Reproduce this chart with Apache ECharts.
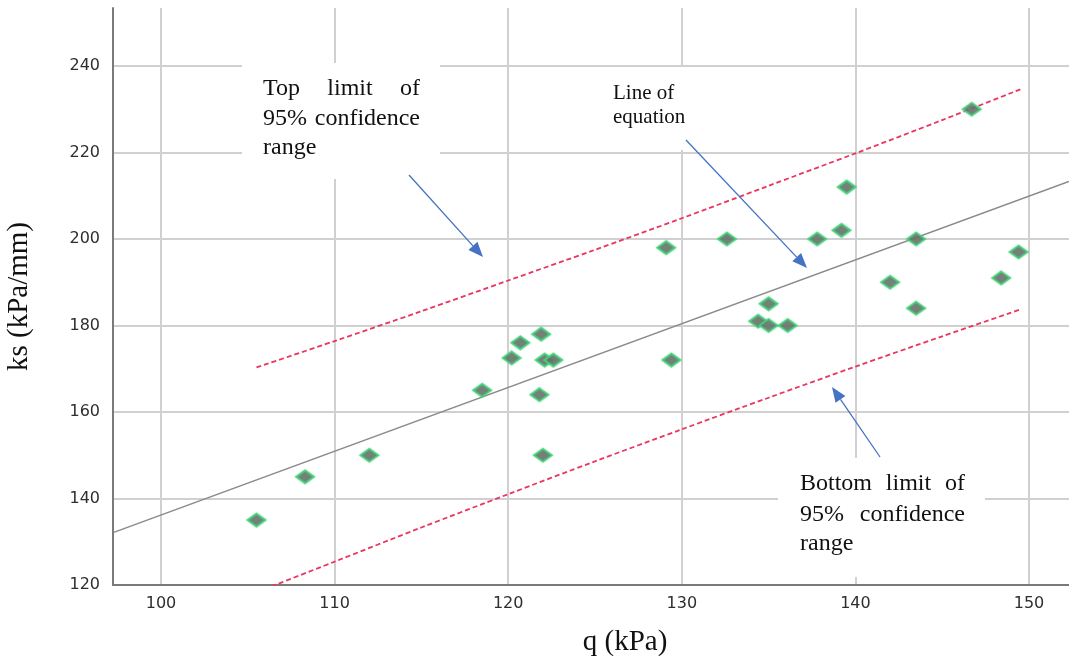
<!DOCTYPE html>
<html>
<head>
<meta charset="utf-8">
<script src="https://cdn.jsdelivr.net/npm/echarts@6/dist/echarts.min.js"></script>
<style>
  html, body { margin: 0; padding: 0; background: #ffffff; }
  #main { width: 1069px; height: 663px; }
</style>
</head>
<body>
<div id="main"></div>
<script>
// Tick values shown on each axis
const xTicks = [100, 110, 120, 130, 140, 150];
const yTicks = [120, 140, 160, 180, 200, 220, 240];

// Measured pairs: bearing pressure q (kPa) and subgrade modulus ks (kPa/mm)
const qValues  = [105.5, 108.3, 112.0, 118.5, 120.2, 120.7, 121.9, 121.8, 122.1, 122.6,
                  122.0, 129.1, 129.4, 132.6, 134.4, 135.0, 135.0, 136.1, 137.8, 139.2,
                  139.5, 142.0, 143.5, 143.5, 146.7, 148.4, 149.4];
const ksValues = [135, 145, 150, 165, 172.5, 176, 178, 164, 172, 172,
                  150, 198, 172, 200, 181, 185, 180, 180, 200, 202,
                  212, 190, 200, 184, 230, 191, 197];

// Regression line end points
const fitQ  = [97.24, 152.3];
const fitKs = [132.1, 213.3];

// 95% confidence limits
const bandQ   = [105.5, 110, 115, 120, 125, 130, 135, 140, 145, 149.5];
const upperKs = [170.3, 176.4, 183.3, 190.4, 197.5, 204.8, 212.3, 219.8, 227.5, 234.6];
const lowerKs = [118.3, 125.4, 133.3, 141.0, 148.6, 156.0, 163.3, 170.5, 177.5, 183.7];

const zip = (a, b) => a.map((v, i) => [v, b[i]]);

const chart = echarts.init(document.getElementById('main'));

const gridColor = '#d0d0d0';
const axisColor = '#7a7a7a';
const tickFont = { fontFamily: 'DejaVu Sans', fontSize: 16, color: '#2e2e2e' };
const serif = 'Liberation Serif';

// ---------- annotation helpers ----------
const measureCtx = document.createElement('canvas').getContext('2d');

function textLine(words, left, right, baseline, size, justify) {
  const font = size + 'px "' + serif + '"';
  measureCtx.font = font;
  const widths = words.map(w => measureCtx.measureText(w).width);
  const total = widths.reduce((s, w) => s + w, 0);
  let gap = measureCtx.measureText(' ').width;
  if (justify && words.length > 1) gap = (right - left - total) / (words.length - 1);
  const out = [];
  let x = left;
  words.forEach((w, i) => {
    out.push({
      type: 'text', x: x, y: baseline - size * 0.33, z: 60,
      style: {
        text: w, font: font, fill: '#111111',
        align: 'left', verticalAlign: 'middle',
        textAlign: 'left', textVerticalAlign: 'middle'
      }
    });
    x += widths[i] + gap;
  });
  return out;
}

function arrow(x1, y1, x2, y2) {
  const dx = x2 - x1, dy = y2 - y1;
  const len = Math.sqrt(dx * dx + dy * dy);
  const ux = dx / len, uy = dy / len;
  const headLen = 15, halfW = 6;
  const bx = x2 - ux * headLen, by = y2 - uy * headLen;
  const px = -uy * halfW, py = ux * halfW;
  return [
    { type: 'line', z: 61, shape: { x1: x1, y1: y1, x2: bx, y2: by },
      style: { stroke: '#4472c4', lineWidth: 1.3 } },
    { type: 'polygon', z: 61,
      shape: { points: [[x2, y2], [bx + px, by + py], [bx - px, by - py]] },
      style: { fill: '#4472c4' } }
  ];
}

const graphics = [
  // white label panels
  { type: 'rect', z: 55, shape: { x: 242, y: 63, width: 198, height: 116 }, style: { fill: '#ffffff' } },
  { type: 'rect', z: 55, shape: { x: 600, y: 67, width: 100, height: 83 }, style: { fill: '#ffffff' } },
  { type: 'rect', z: 55, shape: { x: 778, y: 458, width: 207, height: 119 }, style: { fill: '#ffffff' } }
]
  .concat(textLine(['Top', 'limit', 'of'], 263, 420, 97, 24, true))
  .concat(textLine(['95%', 'confidence'], 263, 420, 127, 24, true))
  .concat(textLine(['range'], 263, 420, 156, 24, false))
  .concat(textLine(['Line', 'of'], 613, 676, 100, 21, false))
  .concat(textLine(['equation'], 613, 690, 124, 21, false))
  .concat(textLine(['Bottom', 'limit', 'of'], 800, 965, 492, 24, true))
  .concat(textLine(['95%', 'confidence'], 800, 965, 523, 24, true))
  .concat(textLine(['range'], 800, 965, 552, 24, false))
  .concat(arrow(409, 175, 483, 257))
  .concat(arrow(686, 140, 807, 268))
  .concat(arrow(880, 457, 832, 387));

chart.setOption({
  animation: false,
  backgroundColor: '#ffffff',
  grid: { left: 113, right: 0, top: 8, bottom: 78, containLabel: false, outerBoundsMode: 'none' },
  xAxis: {
    type: 'value',
    min: 97.235,
    max: 152.304,
    name: 'q (kPa)',
    nameLocation: 'middle',
    nameGap: 43,
    nameTextStyle: { fontFamily: serif, fontSize: 29, color: '#111111', padding: [0, 0, 0, 68] },
    axisLine: { show: true, onZero: false, lineStyle: { color: axisColor, width: 2 } },
    axisTick: { show: false, customValues: xTicks },
    axisLabel: Object.assign({ customValues: xTicks, margin: 11 }, tickFont),
    splitLine: { show: true, lineStyle: { color: gridColor, width: 2 } }
  },
  yAxis: {
    type: 'value',
    min: 120,
    max: 253.41,
    name: 'ks (kPa/mm)',
    nameLocation: 'middle',
    nameGap: 79,
    nameTextStyle: { fontFamily: serif, fontSize: 29, color: '#111111', padding: [0, 0, 0, 0] },
    axisLine: { show: true, onZero: false, lineStyle: { color: axisColor, width: 2 } },
    axisTick: { show: false, customValues: yTicks },
    axisLabel: Object.assign({ customValues: yTicks, margin: 13 }, tickFont),
    splitLine: { show: true, lineStyle: { color: gridColor, width: 2 } }
  },
  series: [
    {
      name: 'Fit line',
      type: 'line',
      data: zip(fitQ, fitKs),
      symbol: 'none',
      lineStyle: { color: '#8a8a8a', width: 1.5 },
      z: 3
    },
    {
      name: 'Upper 95%',
      type: 'line',
      data: zip(bandQ, upperKs),
      symbol: 'none',
      smooth: 0.3,
      lineStyle: { color: '#e8365f', width: 1.8, type: [5, 3] },
      z: 3
    },
    {
      name: 'Lower 95%',
      type: 'line',
      data: zip(bandQ, lowerKs),
      symbol: 'none',
      smooth: 0.3,
      lineStyle: { color: '#e8365f', width: 1.8, type: [5, 3] },
      z: 3
    },
    {
      name: 'ks',
      type: 'scatter',
      data: zip(qValues, ksValues),
      symbol: 'diamond',
      symbolSize: [18, 13],
      itemStyle: {
        color: '#666666',
        borderColor: '#45d47c',
        borderWidth: 1.8,
        shadowColor: 'rgba(69,212,124,0.6)',
        shadowBlur: 2
      },
      z: 5
    }
  ],
  graphic: graphics
});
</script>
</body>
</html>
